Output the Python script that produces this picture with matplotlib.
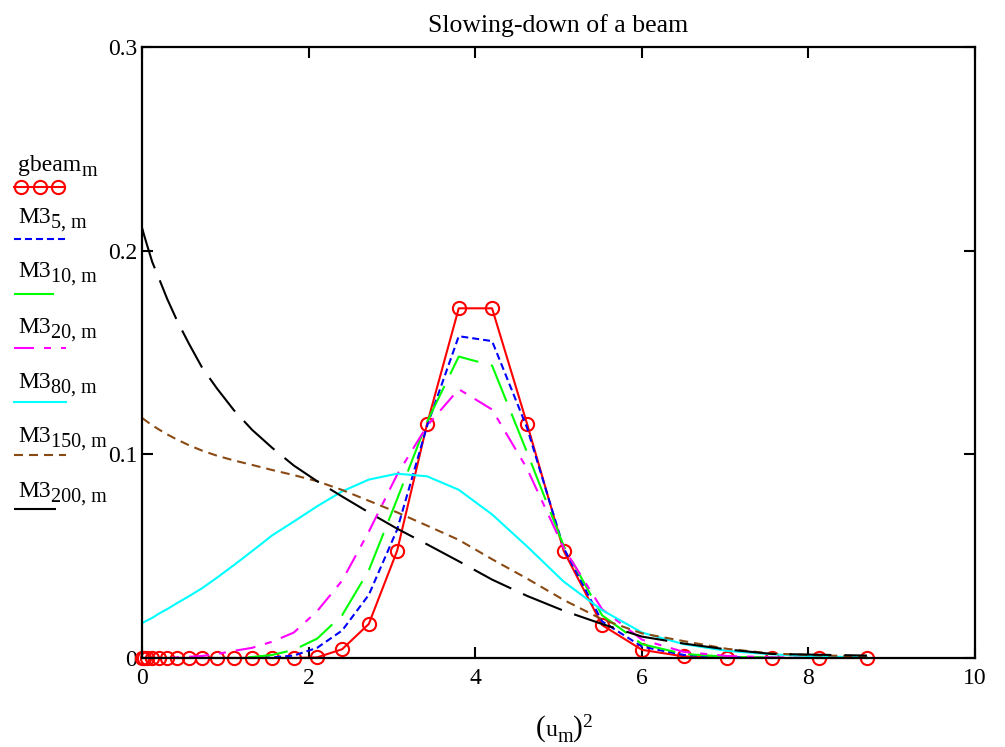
import matplotlib
matplotlib.use("Agg")
import matplotlib.pyplot as plt
import numpy as np

plt.rcParams['font.family'] = ['Liberation Serif', 'DejaVu Serif']
plt.rcParams['lines.scale_dashes'] = False

# ---- data ----
u_m = [0.05, 0.15, 0.25, 0.35, 0.45, 0.55, 0.65, 0.75, 0.85, 0.95,
       1.05, 1.15, 1.25, 1.35, 1.45, 1.55, 1.65, 1.75, 1.85, 1.95,
       2.05, 2.15, 2.25, 2.35, 2.45, 2.55, 2.65, 2.75, 2.85, 2.95]

gbeam = [0, 0, 0, 0, 0, 0, 0, 0, 0, 0,
         0, 0, 0, 0, 0.0003, 0.0043, 0.0167, 0.0526, 0.115, 0.1717,
         0.1717, 0.115, 0.0526, 0.0162, 0.0040, 0.0008, 0.0001, 0, 0, 0]

M3_5 = [0, 0, 0, 0, 0, 0, 0, 0, 0, 0,
        0, 0, 0.0003, 0.0012, 0.005, 0.0135, 0.031, 0.063, 0.114, 0.158,
        0.1556, 0.113, 0.054, 0.018, 0.0056, 0.0015, 0.0004, 0.0001, 0, 0]

M3_10 = [0, 0, 0, 0, 0, 0, 0, 0, 0, 0,
         0, 0.0005, 0.0015, 0.004, 0.0095, 0.021, 0.043, 0.078, 0.116, 0.148,
         0.1436, 0.101, 0.055, 0.021, 0.0068, 0.002, 0.0006, 0.0002, 0, 0]

M3_20 = [0, 0, 0, 0, 0, 0, 0.0003, 0.0006, 0.001, 0.002,
         0.0035, 0.005, 0.008, 0.0125, 0.023, 0.038, 0.062, 0.090, 0.114, 0.132,
         0.122, 0.093, 0.054, 0.024, 0.009, 0.003, 0.001, 0.0003, 0.0001, 0]

M3_80 = [0.0172, 0.0176, 0.0185, 0.0197, 0.0218, 0.024, 0.027, 0.0303, 0.0343, 0.0395,
         0.0456, 0.0525, 0.0602, 0.0670, 0.0745, 0.0818, 0.0876, 0.0905, 0.0892, 0.0826,
         0.0705, 0.0548, 0.0375, 0.0235, 0.0125, 0.0068, 0.0035, 0.0018, 0.0008, 0.0003]

M3_150 = [0.1178, 0.1172, 0.116, 0.1143, 0.1122, 0.1098, 0.1072, 0.1045, 0.1018, 0.0993,
          0.097, 0.0948, 0.0923, 0.0898, 0.0868, 0.0825, 0.0772, 0.0715, 0.065, 0.058,
          0.0485, 0.039, 0.0285, 0.019, 0.0121, 0.0083, 0.0045, 0.0022, 0.0013, 0.0008]

M3_200 = [0.211, 0.208, 0.2025, 0.1945, 0.1865, 0.1763, 0.1655, 0.1544, 0.1425, 0.1322,
          0.1217, 0.112, 0.1032, 0.0945, 0.0868, 0.0793, 0.0715, 0.0635, 0.0558, 0.0475,
          0.0385, 0.0305, 0.0232, 0.0167, 0.0105, 0.0071, 0.0042, 0.0020, 0.0016, 0.0012]

label_main = ['gbeam', 'M3', 'M3', 'M3', 'M3', 'M3', 'M3']
label_sub = ['m', '5, m', '10, m', '20, m', '80, m', '150, m', '200, m']

x_ticks = [0, 2, 4, 6, 8, 10]
y_ticks = [0, 0.1, 0.2, 0.3]
y_ticklabels = ['0', '0.1', '0.2', '0.3']

# ---- styles ----
PX = 0.72  # points per pixel at dpi 100
styles = [
    dict(color='#FF0000', ls='-', marker='o', ms=9.5, mfc='none', mew=1.5),
    dict(color='#0000FF', ls=(0, (7 * PX, 4 * PX))),
    dict(color='#00FF00', ls=(0, (40 * PX, 13 * PX))),
    dict(color='#FF00FF', ls=(0, (20 * PX, 10 * PX, 7 * PX, 10 * PX))),
    dict(color='#00FFFF', ls='-'),
    dict(color='#8B4A14', ls=(0, (9 * PX, 6 * PX))),
    dict(color='#000000', ls=(0, (42 * PX, 13 * PX))),
]
series = [gbeam, M3_5, M3_10, M3_20, M3_80, M3_150, M3_200]

W, H = 1005, 747
fig = plt.figure(figsize=(W / 100, H / 100), dpi=100)
ax = fig.add_axes([142 / W, 1 - 658 / H, (975 - 142) / W, (658 - 47) / H])

x = np.array(u_m) ** 2
for s, st in zip(series, styles):
    ax.plot(x, s, lw=1.5, clip_on=(st.get('marker') is None), **st)

ax.set_xlim(0, 10)
ax.set_ylim(0, 0.3)
ax.set_xticks(x_ticks)
ax.set_xticklabels([str(t) for t in x_ticks])
ax.set_yticks(y_ticks)
ax.set_yticklabels(y_ticklabels)
ax.tick_params(direction='in', length=8, width=1.5, labelsize=17,
               top=True, right=True)
ax.tick_params(axis='x', pad=7.5)
ax.tick_params(axis='y', pad=3.5)
for sp in ax.spines.values():
    sp.set_linewidth(1.6)

ax.set_title('Slowing-down of a beam', fontsize=18.5, pad=11)

# ---- overlay in pixel coordinates for legend and axis label ----
lax = fig.add_axes([0, 0, 1, 1], facecolor='none')
lax.set_xlim(0, W)
lax.set_ylim(H, 0)
lax.axis('off')
renderer = fig.canvas.get_renderer()


def rich(x0, y0, pieces, center=False):
    """pieces: (text, size, dy_px) placed one after another on a baseline."""
    arts = []
    for txt, size, dy in pieces:
        arts.append(lax.text(0, y0 + dy, txt, fontsize=size, va='baseline', ha='left'))
    widths = [a.get_window_extent(renderer).width for a in arts]
    total = sum(widths)
    cx = x0 - total / 2 if center else x0
    for a, w in zip(arts, widths):
        a.set_x(cx)
        cx += w


text_base = [171, 223, 277, 333, 388, 442, 497]
samp_y = [187, 239, 294, 348, 402, 455, 509]
for i, st in enumerate(styles):
    rich(18, text_base[i], [(label_main[i], 17, 0), (label_sub[i], 14.5, 5)])
    if st.get('marker'):
        lax.plot([14, 65], [samp_y[i]] * 2, color=st['color'], lw=1.5)
        lax.plot([21, 39.5, 58], [samp_y[i]] * 3, ls='none', marker='o',
                 ms=9.5, mfc='none', mec=st['color'], mew=1.5)
    else:
        lax.plot([14, 66], [samp_y[i]] * 2, color=st['color'], ls=st['ls'], lw=1.5)

# x-axis label  (u_m)^2
rich(564, 736, [('(', 21, 0), ('u', 17, 0), ('m', 14.5, 6), (')', 21, 0), ('2', 14, -9)],
     center=True)

fig.savefig('out.png', dpi=100)
